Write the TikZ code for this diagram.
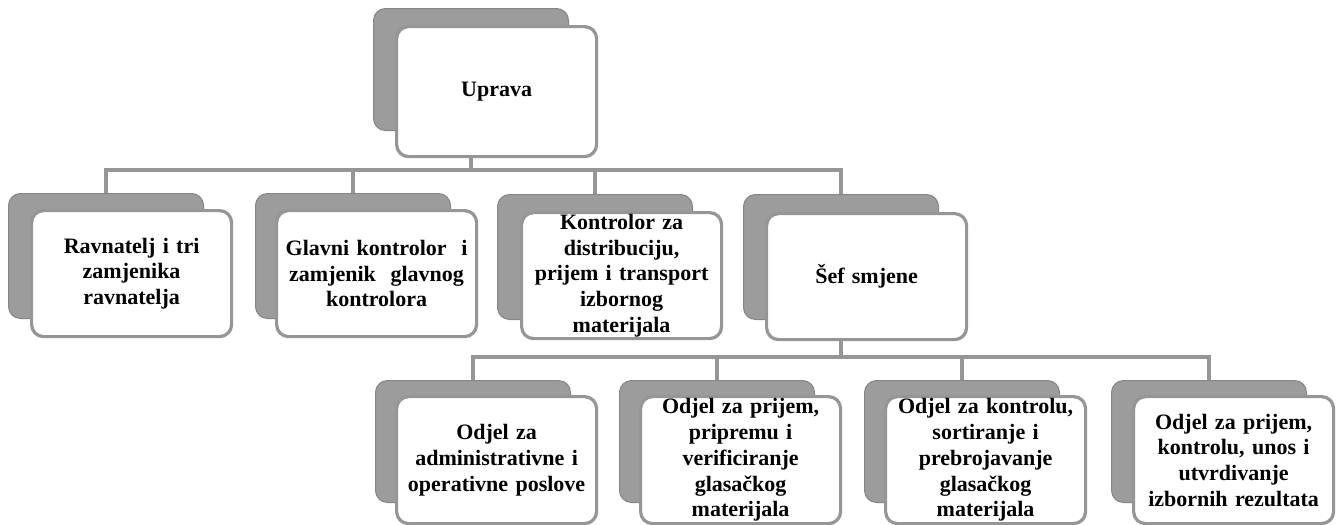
\documentclass[tikz,border=0pt]{standalone}
\usepackage{fontspec}
\setmainfont{Liberation Serif}
\begin{document}
\begin{tikzpicture}[
 x=1pt,y=-1pt,
 backbox/.style={rectangle, rounded corners=12pt, fill=gray!78, draw=gray!95, line width=1pt,
   minimum width=195pt, minimum height=125pt, anchor=north west, inner sep=0pt},
 frontbox/.style={rectangle, rounded corners=12pt, fill=white, draw=gray!82, line width=3.2pt,
   minimum width=200pt, minimum height=126pt, anchor=north west, align=center, inner sep=0pt,
   text width=192pt, font=\bfseries\fontsize{22}{25.7}\selectfont},
 link/.style={draw=gray!82, line width=4.5pt, line join=miter}
]
\useasboundingbox (0,0) rectangle (1342,525);

% top
\node[backbox, minimum height=122pt] (bU) at (373,8) {};
\node[frontbox, minimum height=130pt] (fU) at (395,25) {Uprava};

% row 2
\node[backbox] (b1) at (8,193) {};
\node[frontbox] (f1) at (30,209) {Ravnatelj i tri\\zamjenika\\ravnatelja};
\node[backbox] (b2) at (255,193) {};
\node[frontbox] (f2) at (275,209) {Glavni kontrolor\ \ i\\zamjenik\ \ glavnog\\kontrolora};
\node[backbox] (b3) at (497,194) {};
\node[frontbox] (f3) at (520,211) {Kontrolor za\\distribuciju,\\prijem i transport\\izbornog\\materijala};
\node[backbox] (b4) at (743,194) {};
\node[frontbox] (f4) at (765,212) {Šef smjene};

% row 3
\node[backbox, minimum height=122pt] (c1) at (375,380) {};
\node[frontbox, minimum height=127pt] (g1) at (395,395) {Odjel za\\administrativne i\\operativne poslove};
\node[backbox, minimum height=122pt] (c2) at (619,380) {};
\node[frontbox, minimum height=127pt] (g2) at (639,395) {Odjel za prijem,\\pripremu i\\verificiranje\\glasačkog\\materijala};
\node[backbox, minimum height=122pt] (c3) at (864,380) {};
\node[frontbox, minimum height=127pt] (g3) at (884,395) {Odjel za kontrolu,\\sortiranje i\\prebrojavanje\\glasačkog\\materijala};
\node[backbox, minimum height=122pt] (c4) at (1111,380) {};
\node[frontbox, minimum height=127pt] (g4) at (1132,395) {Odjel za prijem,\\kontrolu, unos i\\utvrdivanje\\izbornih rezultata};

% connectors
\coordinate (barA) at (0,170);
\coordinate (barB) at (0,357);
\draw[link] (fU.south -| bU.north) -- (barA -| bU.north);
\draw[link] (b1.north) -- (b1.north |- barA) -- (b4.north |- barA) -- (b4.north);
\draw[link] (b2.north |- barA) -- (b2.north);
\draw[link] (b3.north |- barA) -- (b3.north);
\draw[link] (f4.south -| b4.north) -- (barB -| b4.north);
\draw[link] (c1.north) -- (c1.north |- barB) -- (c4.north |- barB) -- (c4.north);
\draw[link] (c2.north |- barB) -- (c2.north);
\draw[link] (c3.north |- barB) -- (c3.north);
\end{tikzpicture}
\end{document}
